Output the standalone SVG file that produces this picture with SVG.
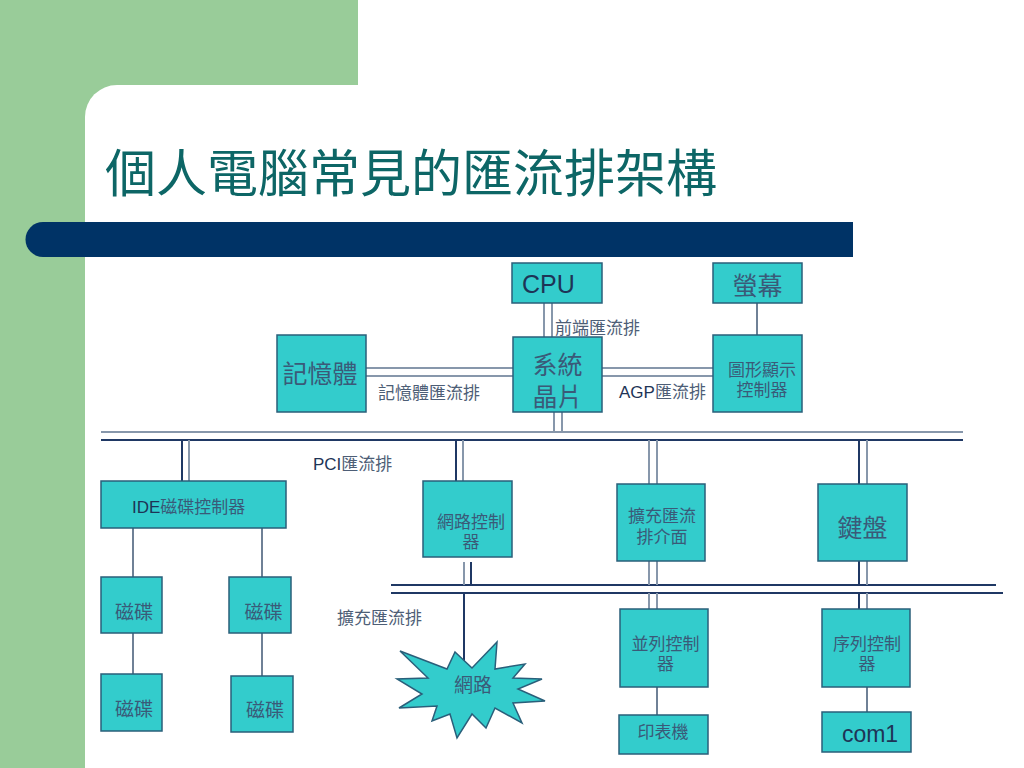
<svg xmlns="http://www.w3.org/2000/svg" width="1024" height="768" viewBox="0 0 1024 768">
<defs>
<style>
.box{fill:#33cccc;stroke:#2a5f7a;stroke-width:1.5}
.t{font-family:"Liberation Sans","Noto Sans CJK TC",sans-serif;fill:#3a5a78;text-anchor:middle}
.lbl{font-family:"Liberation Sans","Noto Sans CJK TC",sans-serif;fill:#4d5e76;font-size:17px}
.lat{fill:#1e3456}
.g{stroke:#8797ab;stroke-width:2;fill:none}
.n{stroke:#1f3864;stroke-width:2;fill:none}
.s{stroke:#6f8196;stroke-width:2;fill:none}
</style>
</defs>
<rect x="0" y="0" width="1024" height="768" fill="#ffffff"/>
<g id="background">
<rect x="0" y="0" width="358" height="768" fill="#99cc99"/>
<path d="M85,768 V117 A32,32 0 0 1 117,85 H358 V768 Z" fill="#ffffff"/>
<path d="M853,222 H43 A17.5,17.5 0 0 0 43,257 H853 Z" fill="#003366"/>
<text x="105" y="192" font-family="'Noto Sans CJK TC','Noto Sans CJK SC',sans-serif" font-size="51" fill="#0d6666" textLength="612" lengthAdjust="spacingAndGlyphs">個人電腦常見的匯流排架構</text>
</g>
<g id="connectors">
<line class="g" x1="544" y1="303" x2="544" y2="337"/>
<line class="g" x1="552" y1="303" x2="552" y2="337"/>
<line class="s" x1="757" y1="303" x2="757" y2="335"/>
<line class="g" x1="366" y1="368" x2="513" y2="368"/>
<line class="g" x1="366" y1="376" x2="513" y2="376"/>
<line class="g" x1="602" y1="368" x2="713" y2="368"/>
<line class="g" x1="602" y1="376" x2="713" y2="376"/>
<line class="g" x1="554" y1="412" x2="554" y2="432"/>
<line class="g" x1="562" y1="412" x2="562" y2="432"/>
<line class="g" x1="101" y1="432" x2="963" y2="432"/>
<line class="n" x1="101" y1="440" x2="963" y2="440"/>
<line class="n" x1="182" y1="440" x2="182" y2="481"/>
<line class="g" x1="189" y1="440" x2="189" y2="481"/>
<line class="n" x1="456" y1="440" x2="456" y2="481"/>
<line class="g" x1="463" y1="440" x2="463" y2="481"/>
<line class="g" x1="649" y1="440" x2="649" y2="484"/>
<line class="g" x1="657" y1="440" x2="657" y2="484"/>
<line class="n" x1="859" y1="440" x2="859" y2="484"/>
<line class="g" x1="867" y1="440" x2="867" y2="484"/>
<line class="s" x1="133" y1="528" x2="133" y2="577"/>
<line class="s" x1="262" y1="528" x2="262" y2="577"/>
<line class="s" x1="133" y1="633" x2="133" y2="674"/>
<line class="s" x1="262" y1="633" x2="262" y2="676"/>
<line class="n" x1="391" y1="585" x2="996" y2="585"/>
<line class="n" x1="391" y1="593" x2="1003" y2="593"/>
<line class="g" x1="464" y1="562" x2="464" y2="585"/>
<line class="n" x1="471" y1="562" x2="471" y2="585"/>
<line class="n" x1="464" y1="593" x2="464" y2="666"/>
<line class="g" x1="649" y1="561" x2="649" y2="585"/>
<line class="g" x1="657" y1="561" x2="657" y2="585"/>
<line class="g" x1="649" y1="593" x2="649" y2="609"/>
<line class="g" x1="657" y1="593" x2="657" y2="609"/>
<line class="n" x1="859" y1="561" x2="859" y2="585"/>
<line class="g" x1="867" y1="561" x2="867" y2="585"/>
<line class="n" x1="859" y1="593" x2="859" y2="609"/>
<line class="g" x1="867" y1="593" x2="867" y2="609"/>
<line class="s" x1="657" y1="687" x2="657" y2="715"/>
<line class="s" x1="867" y1="687" x2="867" y2="712"/>
</g>
<g id="labels">
<text class="lbl" x="555" y="334">前端匯流排</text>
<text class="lbl" x="378" y="399">記憶體匯流排</text>
<text class="lbl" x="619" y="398"><tspan class="lat">AGP</tspan>匯流排</text>
<text class="lbl" x="313" y="470"><tspan class="lat">PCI</tspan>匯流排</text>
<text class="lbl" x="337" y="624">擴充匯流排</text>
</g>
<g id="cpu"><rect class="box" x="512" y="263" width="90" height="40"/><text x="522" y="293" font-family="'Liberation Sans',sans-serif" font-size="25" fill="#1e3456">CPU</text></g>
<g id="screen"><rect class="box" x="713" y="263" width="89" height="40"/><text class="t" x="757.5" y="295" font-size="25">螢幕</text></g>
<g id="memory"><rect class="box" x="277" y="335" width="89" height="77"/><text class="t" x="320" y="383" font-size="25">記憶體</text></g>
<g id="chipset"><rect class="box" x="513" y="337" width="89" height="75"/><text class="t" x="557.5" y="374" font-size="25">系統</text><text class="t" x="557.5" y="406" font-size="25">晶片</text></g>
<g id="gfx"><rect class="box" x="713" y="335" width="89" height="77"/><text class="t" x="762" y="376" font-size="17">圖形顯示</text><text class="t" x="762" y="396" font-size="17">控制器</text></g>
<g id="ide"><rect class="box" x="101" y="481" width="185" height="47"/><text x="132" y="513" font-family="'Liberation Sans','Noto Sans CJK TC',sans-serif" font-size="17" fill="#3a5a78"><tspan fill="#1e3456">IDE</tspan>磁碟控制器</text></g>
<g id="netctl"><rect class="box" x="423" y="481" width="89" height="76"/><text class="t" x="471" y="528" font-size="17">網路控制</text><text class="t" x="471" y="548" font-size="17">器</text></g>
<g id="expiface"><rect class="box" x="617" y="484" width="88" height="77"/><text class="t" x="662" y="522" font-size="17">擴充匯流</text><text class="t" x="662" y="543" font-size="17">排介面</text></g>
<g id="keyboard"><rect class="box" x="818" y="484" width="89" height="77"/><text class="t" x="862.5" y="537" font-size="25">鍵盤</text></g>
<g id="disk1"><rect class="box" x="101" y="577" width="61" height="56"/><text class="t" x="134" y="619" font-size="19">磁碟</text></g>
<g id="disk2"><rect class="box" x="229" y="577" width="62" height="56"/><text class="t" x="263.5" y="619" font-size="19">磁碟</text></g>
<g id="disk3"><rect class="box" x="101" y="674" width="61" height="57"/><text class="t" x="134" y="716" font-size="19">磁碟</text></g>
<g id="disk4"><rect class="box" x="231" y="676" width="62" height="56"/><text class="t" x="265" y="717" font-size="19">磁碟</text></g>
<g id="network"><path class="box" d="M400,651 L447,669 L455,652 L472,668 L497,642 L495,669 L525,664 L513,678 L542,679 L518,689 L545,701 L513,703 L522,723 L495,708 L486,728 L472,714 L457,738 L450,714 L432,721 L437,706 L399,708 L422,694 L397,679 L428,678 Z"/><text class="t" x="473" y="692" font-size="19">網路</text></g>
<g id="parallel"><rect class="box" x="620" y="609" width="88" height="78"/><text class="t" x="665.5" y="650" font-size="17">並列控制</text><text class="t" x="665.5" y="670" font-size="17">器</text></g>
<g id="serial"><rect class="box" x="822" y="609" width="88" height="78"/><text class="t" x="867" y="650" font-size="17">序列控制</text><text class="t" x="867" y="670" font-size="17">器</text></g>
<g id="printer"><rect class="box" x="619" y="715" width="89" height="39"/><text class="t" x="663" y="738" font-size="17">印表機</text></g>
<g id="com1"><rect class="box" x="822" y="712" width="89" height="40"/><text x="870" y="742" font-family="'Liberation Sans',sans-serif" font-size="23" fill="#1e3456" text-anchor="middle">com1</text></g>
</svg>
